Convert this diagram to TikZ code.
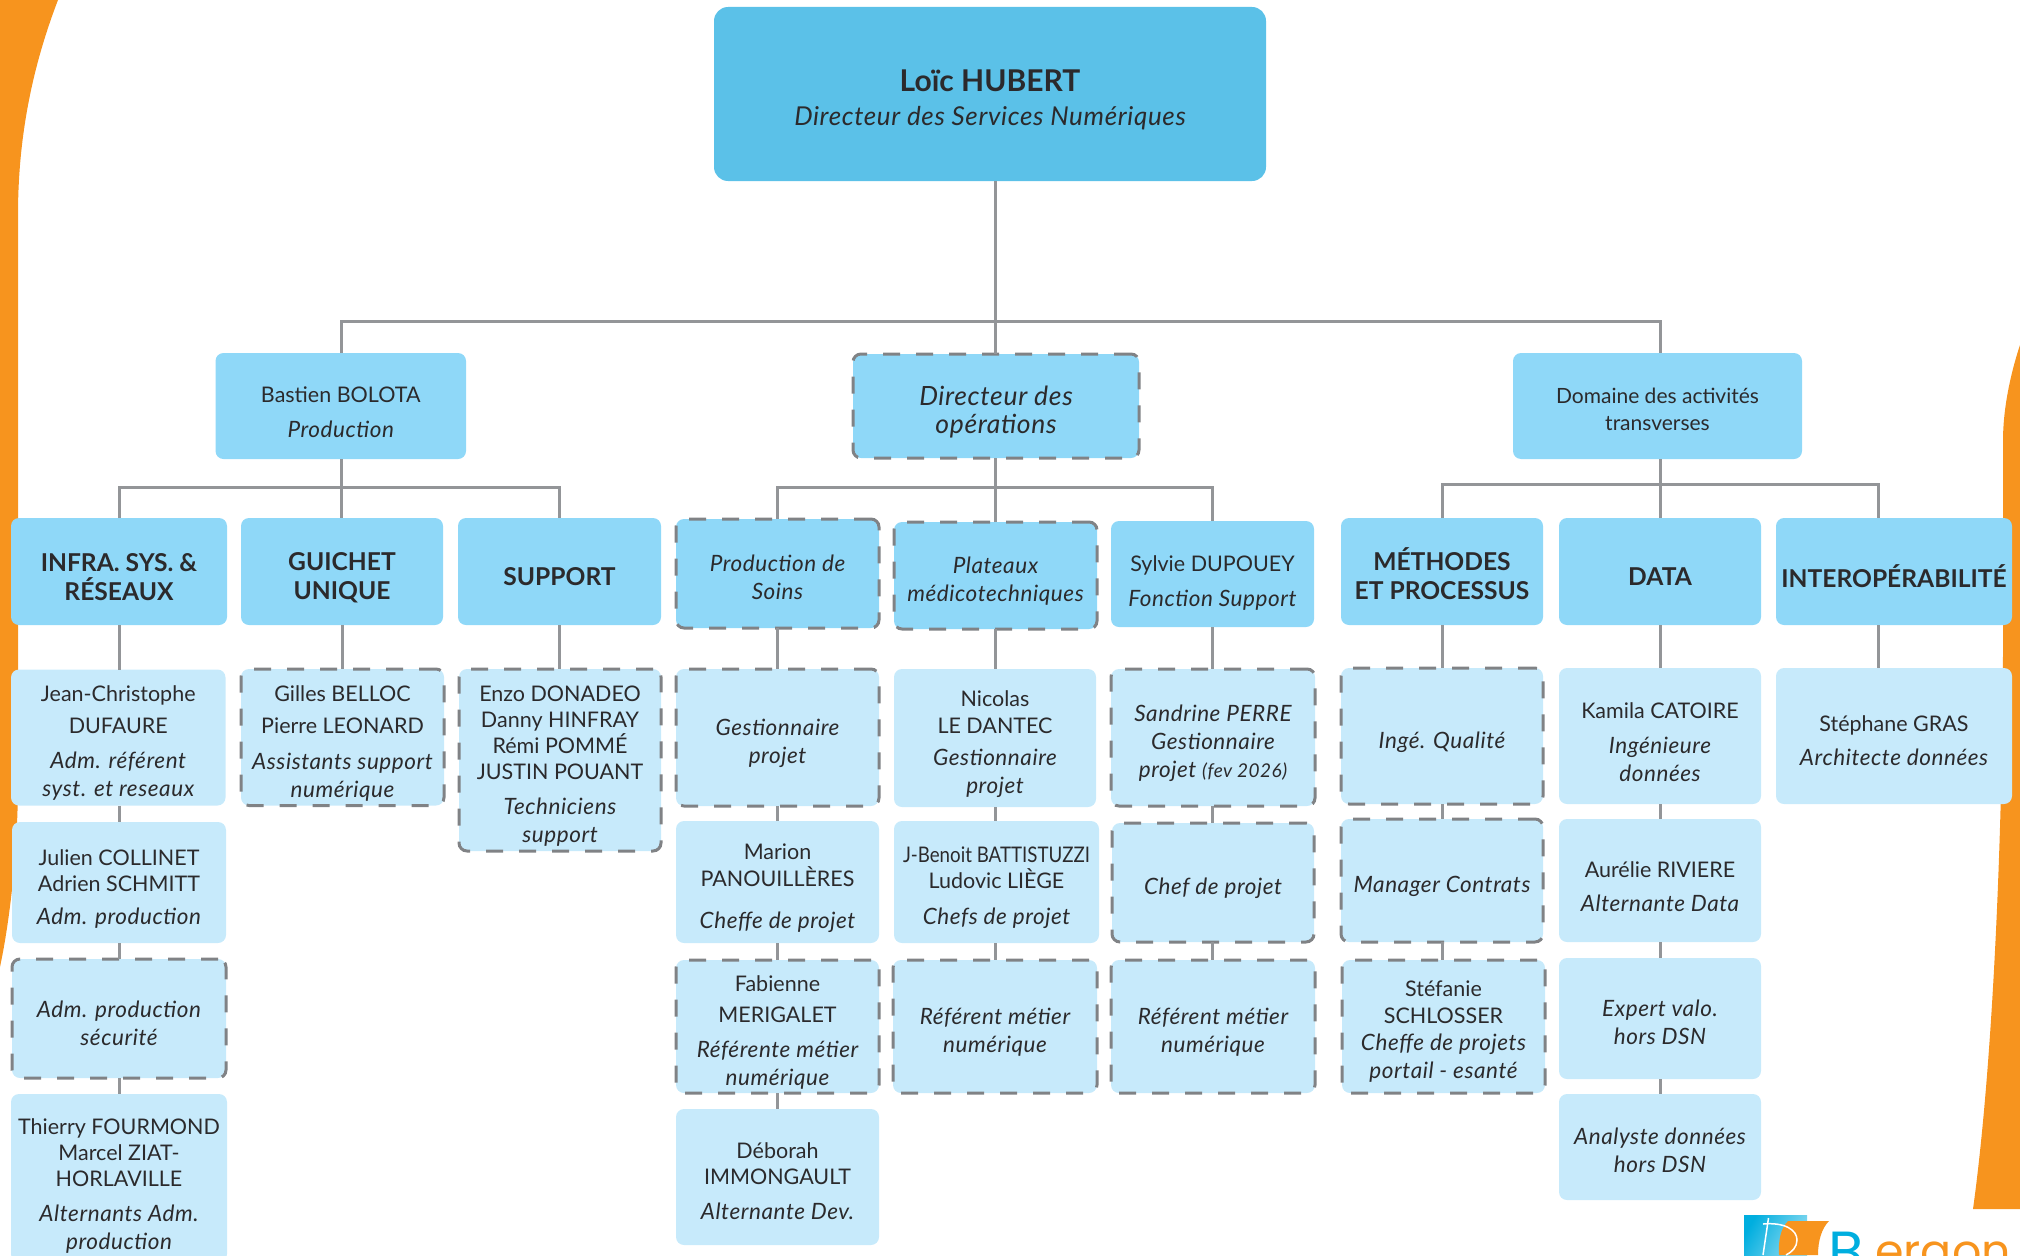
\documentclass[tikz,border=0pt]{standalone}
\usepackage{fontspec}
\setmainfont{Lato}
\newfontfamily\logofont{Poppins}
\usetikzlibrary{calc}
\definecolor{topc}{HTML}{5BC1E8}
\definecolor{midc}{HTML}{8FD8F8}
\definecolor{lowc}{HTML}{C7EAFB}
\definecolor{orng}{HTML}{F7941E}
\definecolor{logob}{HTML}{00AEDF}
\definecolor{linec}{HTML}{939598}
\definecolor{dashc}{HTML}{808285}
\definecolor{ink}{HTML}{2B2A2C}
\tikzset{
  box/.style={rectangle,rounded corners=8pt,inner sep=0pt,outer sep=0pt,draw=none},
  topbox/.style={box,fill=topc,rounded corners=14pt},
  midbox/.style={box,fill=midc},
  lowbox/.style={box,fill=lowc},
  dashmid/.style={midbox,draw=dashc,line width=3pt,dash pattern=on 17pt off 16pt},
  dashlow/.style={lowbox,draw=dashc,line width=3pt,dash pattern=on 17pt off 16pt},
  txt/.style={align=center,text=ink,inner sep=0pt,font=\fontsize{21.5}{28}\selectfont},
  head/.style={txt,font=\fontsize{24.6}{29}\selectfont\bfseries},
  conn/.style={draw=linec,line width=3pt}
}
\newcommand{\rl}[1]{{\fontsize{22.5}{28}\selectfont\itshape\addfontfeature{LetterSpace=2.5}#1}}
\newcommand{\rlb}[1]{{\fontsize{26.5}{27}\selectfont\itshape\addfontfeature{LetterSpace=2.5}#1}}
\newcommand{\rlc}[1]{{\fontsize{26}{34}\selectfont\itshape\addfontfeature{LetterSpace=2.5}#1}}
% \bx[text shift]{name}{style}{x0}{y0}{x1}{y1}{text style}{text}
\newcommand{\bx}[9][0]{%
  \pgfmathsetmacro{\cxx}{(#4+#6)/2}\pgfmathsetmacro{\cyy}{(#5+#7)/2}%
  \pgfmathsetmacro{\wdd}{#6-#4}\pgfmathsetmacro{\htt}{#7-#5}%
  \node[#3,minimum width=\wdd pt,minimum height=\htt pt] (#2) at (\cxx,\cyy) {};
  \node[#8] (#2-t) at ([yshift=#1pt-6pt]#2.center) {#9};
}
\begin{document}
\begin{tikzpicture}[x=1pt,y=-1pt]
\useasboundingbox (0,0) rectangle (2020,1255);
\clip (0,0) rectangle (2020,1255);
% orange side shapes
\fill[orng] (0,0) -- (58,0) .. controls (35,60) and (18,130) .. (18,215) -- (18,780) .. controls (18,850) and (10,920) .. (0,967) -- cycle;
\fill[orng] (2020,345) .. controls (2010,375) and (2003,410) .. (2003,440) -- (2003,640) .. controls (2003,800) and (1995,1050) .. (1973,1209) -- (2020,1209) -- cycle;
% logo
\shade[left color=logob,right color=logob!45!white,shading angle=60] (1744,1215) rectangle (1807,1255);
\fill[orng] (1788,1221) -- (1829,1221) .. controls (1822,1228) and (1818,1240) .. (1818,1255) -- (1779,1255) .. controls (1778,1240) and (1781,1228) .. (1788,1221) -- cycle;
\draw[white,line width=1.5pt] (1768.5,1218) -- (1763,1255);
\draw[white,line width=1.5pt] (1763,1224) .. controls (1785,1222) and (1797,1230) .. (1797,1240) .. controls (1797,1247) and (1792,1252) .. (1786,1255);
\node[anchor=base west,inner sep=0pt,text=logob,font=\logofont\fontsize{58}{58}\selectfont] (logoB) at (1828,1272) {B};
\node[anchor=base west,inner sep=0pt,text=orng,font=\logofont\fontsize{46}{46}\selectfont] (logoE) at (1875,1267) {ergon};

% junctions
\coordinate (jtop) at (995,321);
\coordinate (jdom) at (1660,321);
\coordinate (jb) at (341.5,487);
\coordinate (jo) at (995,487);
\coordinate (jd) at (1660,484);
\coordinate (colC) at (1212.5,0);
\coordinate (colI) at (1878,0);
\coordinate (colA) at (777,0);
\coordinate (colB) at (995,0);
\coordinate (colD) at (1442,0);

% boxes
\bx{top}{topbox}{714}{7}{1266}{181}{txt}{{\fontsize{30}{38}\selectfont\bfseries Loïc HUBERT}\\[6pt]\rlc{Directeur des Services Numériques}}
\bx{bastien}{midbox}{215.5}{353}{466}{459}{txt}{Bastien BOLOTA\\[7pt]\rl{Production}}
\bx{dir}{dashmid}{853}{354}{1139}{458}{txt}{\rlb{Directeur des}\\\rlb{opérations}}
\bx[3]{domaine}{midbox}{1513}{353}{1802}{459}{txt,font=\fontsize{21}{27}\selectfont}{Domaine des activités\\transverses}

\bx{infra}{midbox}{11}{518}{227}{625}{head}{INFRA. SYS. \&\\RÉSEAUX}
\bx{guichet}{midbox}{241}{518}{443}{625}{head}{GUICHET\\UNIQUE}
\bx[1]{support}{midbox}{458}{518}{661}{625}{head}{SUPPORT}
\bx[2]{prodsoins}{dashmid}{676}{519}{879}{628}{txt}{\rl{Production de}\\\rl{Soins}}
\bx{plateaux}{dashmid}{894}{522}{1097}{629}{txt}{\rl{Plateaux}\\\rl{médicotechniques}}
\bx[-3]{sylvie}{midbox}{1111}{521}{1314}{627}{txt}{Sylvie DUPOUEY\\[7pt]\rl{Fonction Support}}
\bx[4]{methodes}{midbox}{1341}{518}{1543}{625}{head}{MÉTHODES\\ET PROCESSUS}
\bx[1]{data}{midbox}{1559}{518}{1761}{625}{head}{DATA}
\bx[1]{interop}{midbox}{1776}{518}{2012}{625}{head}{INTEROPÉRABILITÉ}

% column infra
\bx{jc}{lowbox}{11}{669.5}{225.5}{805.5}{txt}{Jean-Christophe\\[4pt]DUFAURE\\[7pt]\rl{Adm. référent}\\\rl{syst. et reseaux}}
\bx{julien}{lowbox}{12}{822}{226}{943}{txt}{Julien COLLINET\\[-2pt]Adrien SCHMITT\\[5pt]\rl{Adm. production}}
\bx[1]{secu}{dashlow}{12}{959}{226}{1078}{txt}{\rl{Adm. production}\\\rl{sécurité}}
\bx[-2]{thierry}{lowbox}{11}{1094}{227}{1262}{txt}{Thierry FOURMOND\\[-2pt]Marcel ZIAT-\\[-2pt]HORLAVILLE\\[7pt]\rl{Alternants Adm.}\\\rl{production}}
% column guichet
\bx{gilles}{dashlow}{241}{669}{444}{805.5}{txt}{Gilles BELLOC\\[4pt]Pierre LEONARD\\[8pt]\rl{Assistants support}\\\rl{numérique}}
% column support
\bx{enzo}{dashlow}{459}{669}{661}{851}{txt}{Enzo DONADEO\\[-2pt]Danny HINFRAY\\[-2pt]Rémi POMMÉ\\[-2pt]JUSTIN POUANT\\[7pt]\rl{Techniciens}\\\rl{support}}
% column A
\bx{gestA}{dashlow}{676}{669}{879}{806}{txt}{\rl{Gestionnaire}\\\rl{projet}}
\bx{marion}{lowbox}{676}{821}{879}{943}{txt}{Marion\\[-1pt]PANOUILLÈRES\\[14pt]\rl{Cheffe de projet}}
\bx{fabienne}{dashlow}{676}{960}{879}{1093}{txt}{Fabienne\\[3pt]MERIGALET\\[7pt]\rl{Référente métier}\\\rl{numérique}}
\bx[1.5]{deborah}{lowbox}{676}{1109}{879}{1245}{txt}{Déborah\\[-2pt]IMMONGAULT\\[7pt]\rl{Alternante Dev.}}
% column B
\bx{nicolas}{lowbox}{894}{669}{1096}{807}{txt}{Nicolas\\[-1pt]LE DANTEC\\[4pt]\rl{Gestionnaire}\\\rl{projet}}
\bx{benoit}{lowbox}{894}{821}{1099}{943}{txt}{\scalebox{0.87}[1]{J-Benoit BATTISTUZZI}\\[-2pt]Ludovic LIÈGE\\[8pt]\rl{Chefs de projet}}
\bx{refB}{dashlow}{893}{960}{1097}{1093}{txt}{\rl{Référent métier}\\\rl{numérique}}
% column C
\bx{sandrine}{dashlow}{1111}{669}{1315}{806}{txt}{\rl{Sandrine PERRE}\\\rl{Gestionnaire}\\\rl{projet {\fontsize{19}{20}\selectfont(fev 2026)}}}
\bx{chef}{dashlow}{1112}{823}{1314}{942}{txt}{\rl{Chef de projet}}
\bx{refC}{dashlow}{1111}{960}{1315}{1093}{txt}{\rl{Référent métier}\\\rl{numérique}}
% column D
\bx{inge}{dashlow}{1341}{668}{1543}{804}{txt}{\rl{Ingé. Qualité}}
\bx{manager}{dashlow}{1341}{819}{1543}{942}{txt}{\rl{Manager Contrats}}
\bx[1]{stefanie}{dashlow}{1342}{960}{1545}{1093}{txt}{Stéfanie\\[-1pt]SCHLOSSER\\[-1pt]\rl{Cheffe de projets}\\\rl{portail - esanté}}
% column data
\bx{kamila}{lowbox}{1559}{668}{1761}{804}{txt}{Kamila CATOIRE\\[7pt]\rl{Ingénieure}\\\rl{données}}
\bx{aurelie}{lowbox}{1559}{819}{1761}{942}{txt}{Aurélie RIVIERE\\[6pt]\rl{Alternante Data}}
\bx[2.5]{expert}{lowbox}{1559}{958}{1761}{1079}{txt}{\rl{Expert valo.}\\\rl{hors DSN}}
\bx[3]{analyste}{lowbox}{1559}{1094}{1761}{1200}{txt}{\rl{Analyste données}\\\rl{hors DSN}}
% column interop
\bx[1]{stephane}{lowbox}{1776}{668}{2012}{804}{txt}{Stéphane GRAS\\[6pt]\rl{Architecte données}}

% connectors
\draw[conn] (jtop |- top.south) -- (jtop) -- (jtop |- dir.north);
\draw[conn] (jb |- bastien.north) |- (jtop);
\draw[conn] (jtop) -- (jdom) -- (jdom |- domaine.north);
\draw[conn] (jb |- bastien.south) -- (jb) -- (jb |- guichet.north);
\draw[conn] (infra.north) |- (jb);
\draw[conn] (jb) -| (support.north);
\draw[conn] (jo |- dir.south) -- (jo) -- (jo |- plateaux.north);
\draw[conn] (colA |- prodsoins.north) |- (jo);
\draw[conn] (jo) -| (colC |- sylvie.north);
\draw[conn] (jd |- domaine.south) -- (jd) -- (jd |- data.north);
\draw[conn] (colD |- methodes.north) |- (jd);
\draw[conn] (jd) -| (colI |- interop.north);
\draw[conn] (infra.south) -- (infra.south |- jc.north);
\draw[conn] (infra.south |- jc.south) -- (infra.south |- julien.north);
\draw[conn] (infra.south |- julien.south) -- (infra.south |- secu.north);
\draw[conn] (infra.south |- secu.south) -- (infra.south |- thierry.north);
\draw[conn] (guichet.south) -- (guichet.south |- gilles.north);
\draw[conn] (support.south) -- (support.south |- enzo.north);
\draw[conn] (colA |- prodsoins.south) -- (colA |- gestA.north);
\draw[conn] (colA |- gestA.south) -- (colA |- marion.north);
\draw[conn] (colA |- marion.south) -- (colA |- fabienne.north);
\draw[conn] (colA |- fabienne.south) -- (colA |- deborah.north);
\draw[conn] (colB |- plateaux.south) -- (colB |- nicolas.north);
\draw[conn] (colB |- nicolas.south) -- (colB |- benoit.north);
\draw[conn] (colB |- benoit.south) -- (colB |- refB.north);
\draw[conn] (colC |- sylvie.south) -- (colC |- sandrine.north);
\draw[conn] (colC |- sandrine.south) -- (colC |- chef.north);
\draw[conn] (colC |- chef.south) -- (colC |- refC.north);
\draw[conn] (colD |- methodes.south) -- (colD |- inge.north);
\draw[conn] (colD |- inge.south) -- (colD |- manager.north);
\draw[conn] (colD |- manager.south) -- (colD |- stefanie.north);
\draw[conn] (data.south) -- (data.south |- kamila.north);
\draw[conn] (data.south |- kamila.south) -- (data.south |- aurelie.north);
\draw[conn] (data.south |- aurelie.south) -- (data.south |- expert.north);
\draw[conn] (data.south |- expert.south) -- (data.south |- analyste.north);
\draw[conn] (colI |- interop.south) -- (colI |- stephane.north);
\end{tikzpicture}
\end{document}
